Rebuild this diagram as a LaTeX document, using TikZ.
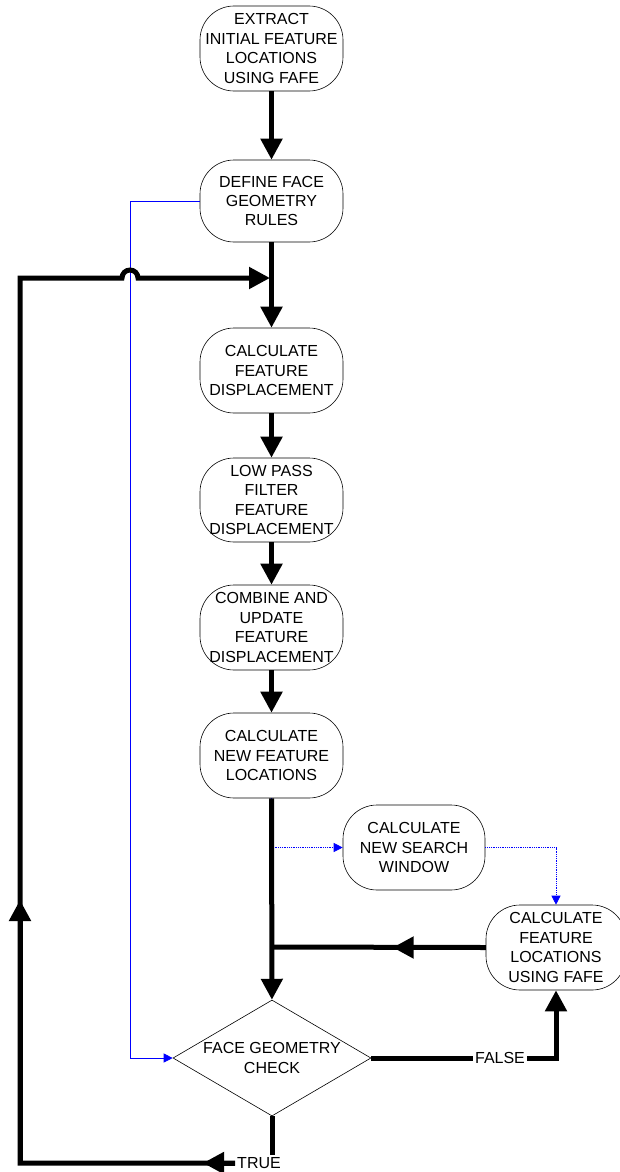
\documentclass[tikz,border=0pt]{standalone}
\usepackage{fontspec}
\setmainfont{Liberation Sans}
\usetikzlibrary{shapes.geometric,arrows.meta}
\newcommand{\boxfont}{\fontsize{16}{19.4}\selectfont}
\tikzset{
  procbox/.style={draw, line width=0.6pt, rounded corners=34pt, minimum width=143pt, minimum height=85pt,
    align=center, inner sep=0pt, font=\boxfont},
  checkbox/.style={draw, line width=0.6pt, diamond, shape aspect=1.7, minimum width=198pt, minimum height=116pt,
    align=center, inner sep=0pt, font=\boxfont},
  lbl/.style={font=\boxfont, inner sep=2pt},
  flow/.style={line width=5pt, -{Triangle[length=21pt,width=21pt]}},
  plain/.style={line width=5pt},
  ctrl/.style={blue, line width=0.8pt, -{Triangle[length=9pt,width=9pt]}},
}
\begin{document}
\begin{tikzpicture}[x=1pt,y=-1pt]
\useasboundingbox (0,0) rectangle (620,1172);
% process boxes
\node[procbox] (extract) at (271.5,48.5) {EXTRACT\\INITIAL FEATURE\\LOCATIONS\\USING FAFE};
\node[procbox,minimum height=82pt] (rules) at (271.5,201) {DEFINE FACE\\GEOMETRY\\RULES};
\node[procbox] (disp) at (271.5,370.5) {CALCULATE\\FEATURE\\DISPLACEMENT};
\node[procbox,minimum height=84pt] (lowpass) at (271.5,500) {LOW PASS\\FILTER\\FEATURE\\DISPLACEMENT};
\node[procbox] (combine) at (271.5,627.5) {COMBINE AND\\UPDATE\\FEATURE\\DISPLACEMENT};
\node[procbox] (newloc) at (271.5,755.5) {CALCULATE\\NEW FEATURE\\LOCATIONS};
\node[procbox,minimum width=142pt] (search) at (414,847.5) {CALCULATE\\NEW SEARCH\\WINDOW};
\node[procbox,minimum width=140pt] (fafe) at (556,947.5) {CALCULATE\\FEATURE\\LOCATIONS\\USING FAFE};
\node[checkbox] (check) at (272,1058) {FACE GEOMETRY\\CHECK};
\node[lbl] (true) at (259,1163) {TRUE};
\node[lbl] (false) at (500,1058) {FALSE};
% corner points
\coordinate (join) at (270,278);
\coordinate (loopbl) at (20,1163);
\coordinate (looptl) at (20,278);
\coordinate (hop) at (122,278);
\coordinate (uparrow) at (20,900);
\coordinate (bluecorner) at (130,201);
\coordinate (merge) at (272,947);
% blue control lines
\draw[ctrl] (rules.west) -- (bluecorner) |- (check.west);
\draw[ctrl,densely dotted] (newloc.south) |- (search.west);
\draw[ctrl,densely dotted] (search.east) -| (fafe.north);
% main flow
\draw[flow] (extract) -- (rules);
\draw[flow] (rules) -- (disp);
\draw[flow] (disp) -- (lowpass);
\draw[flow] (lowpass) -- (combine);
\draw[flow] (combine) -- (newloc);
\draw[flow] (newloc) -- (check);
% back from fafe
\draw[plain] (fafe.west) -- (merge);
\draw[flow] (fafe.west) -- ++(-93,0);
% false branch
\draw[plain] (check.east) -- (false.west);
\draw[flow] (false.east) -| (fafe.south);
% true branch, loop back
\draw[plain] (check.south) -- (check.south |- true.north);
\draw[flow] (true.west) -- (loopbl) -- (looptl) -- (hop)
  arc[start angle=180, end angle=360, radius=8] -- (join);
\draw[flow] (true.west) -- ++(-32,0);
\draw[flow] (loopbl) -- (uparrow);
\end{tikzpicture}
\end{document}
